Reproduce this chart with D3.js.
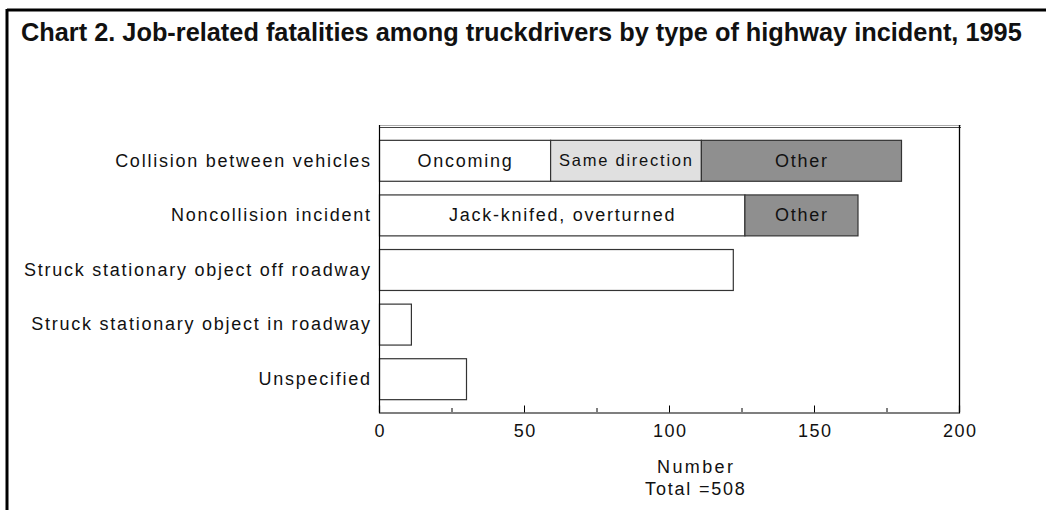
<!DOCTYPE html>
<html>
<head>
<meta charset="utf-8">
<script src="https://cdn.jsdelivr.net/npm/d3@7"></script>
<style>
  html, body { margin: 0; padding: 0; background: #fff; }
  svg { display: block; }
  text { font-family: "Liberation Sans", Arial, sans-serif; fill: #111; }
</style>
</head>
<body>
<svg id="chart" width="1046" height="510"></svg>
<script>
const title = "Chart 2. Job-related fatalities among truckdrivers by type of highway incident, 1995";
const categories = [
  "Collision between vehicles",
  "Noncollision incident",
  "Struck stationary object off roadway",
  "Struck stationary object in roadway",
  "Unspecified"
];
const segmentKeys = ["first", "second", "third"];
const firstValues  = [59, 126, 122, 11, 30];
const secondValues = [52, 0, 0, 0, 0];
const thirdValues  = [69, 39, 0, 0, 0];
const firstLabels  = ["Oncoming", "Jack-knifed, overturned", "", "", ""];
const secondLabels = ["Same direction", "", "", "", ""];
const thirdLabels  = ["Other", "Other", "", "", ""];
const xTicksMajor = [0, 50, 100, 150, 200];
const xTicksMinor = [25, 75, 125, 175];
const xTitle = "Number";
const totalLabel = "Total =508";

const fills = { first: "#ffffff", second: "#e0e0e0", third: "#8f8f8f" };
const labelSizes = { first: 18, second: 16.5, third: 18 };
const LS = 1.75;

const rows = categories.map((c, i) => ({
  category: c,
  first: firstValues[i], second: secondValues[i], third: thirdValues[i],
  labels: { first: firstLabels[i], second: secondLabels[i], third: thirdLabels[i] }
}));

const svg = d3.select("#chart");

// outer frame (top and left edges)
svg.append("line").attr("x1", 7).attr("x2", 1046).attr("y1", 10).attr("y2", 10)
  .attr("stroke", "#000").attr("stroke-width", 3);
svg.append("line").attr("x1", 7).attr("x2", 7).attr("y1", 9).attr("y2", 510)
  .attr("stroke", "#000").attr("stroke-width", 3);

// title
const t = svg.append("text").attr("x", 21).attr("y", 40.5)
  .attr("font-weight", "bold").attr("font-size", 19).text(title);
const tw = t.node().getComputedTextLength();
t.attr("font-size", 19 * 1001 / tw);

const pLeft = 379, pRight = 959, pTop = 127, pBottom = 412;
const x = d3.scaleLinear().domain([0, 200]).range([pLeft, pRight]);
const y = d3.scaleBand().domain(categories).range([pTop, pBottom])
  .paddingInner(0.25).paddingOuter(0.235);

// plot top double line
svg.append("line").attr("x1", pLeft).attr("x2", pRight + 2).attr("y1", pTop - 1.5).attr("y2", pTop - 1.5)
  .attr("stroke", "#aaa").attr("stroke-width", 1);
svg.append("line").attr("x1", pLeft).attr("x2", pRight + 2).attr("y1", pTop + 0.5).attr("y2", pTop + 0.5)
  .attr("stroke", "#444").attr("stroke-width", 1);
// right border
svg.append("line").attr("x1", pRight + 0.5).attr("x2", pRight + 0.5).attr("y1", pTop - 2).attr("y2", pBottom)
  .attr("stroke", "#000").attr("stroke-width", 1.3);

// stacked bars
const stack = d3.stack().keys(segmentKeys)(rows);
const g = svg.append("g");
stack.forEach(layer => {
  const key = layer.key;
  layer.forEach(d => {
    const v = d[1] - d[0];
    if (v <= 0) return;
    const yy = y(d.data.category);
    g.append("rect")
      .attr("x", x(d[0]) + 0.5).attr("y", yy + 0.5)
      .attr("width", x(d[1]) - x(d[0])).attr("height", y.bandwidth())
      .attr("fill", fills[key]).attr("stroke", "#333").attr("stroke-width", 1.2);
    const lab = d.data.labels[key];
    if (lab) {
      g.append("text")
        .attr("x", (x(d[0]) + x(d[1])) / 2 + LS / 2).attr("y", yy + y.bandwidth() / 2)
        .attr("dy", "0.35em").attr("text-anchor", "middle")
        .attr("font-size", labelSizes[key]).attr("letter-spacing", LS + "px")
        .text(lab);
    }
  });
});

// y axis (left line + category labels)
svg.append("line").attr("x1", pLeft + 0.5).attr("x2", pLeft + 0.5).attr("y1", pTop - 2).attr("y2", pBottom)
  .attr("stroke", "#000").attr("stroke-width", 1.2);
svg.append("g").selectAll("text").data(categories).join("text")
  .attr("x", 370 + LS).attr("y", d => y(d) + y.bandwidth() / 2).attr("dy", "0.35em")
  .attr("text-anchor", "end").attr("font-size", 18).attr("letter-spacing", LS + "px")
  .text(d => d);

// x axis
const xAxis = svg.append("g").attr("transform", `translate(0,${pBottom + 0.5})`)
  .call(d3.axisBottom(x).tickValues(xTicksMajor).tickSize(-7).tickPadding(12).tickFormat(d3.format("d")));
xAxis.select(".domain").attr("stroke", "#000").attr("stroke-width", 1.2);
xAxis.selectAll(".tick line").attr("stroke", "#000");
xAxis.selectAll(".tick text").attr("font-size", 18).attr("fill", "#111")
  .attr("font-family", "'Liberation Sans', Arial, sans-serif").attr("letter-spacing", "1.5px")
  .attr("dx", "0.75px");
svg.append("g").selectAll("line").data(xTicksMinor).join("line")
  .attr("x1", d => x(d) + 0.5).attr("x2", d => x(d) + 0.5)
  .attr("y1", pBottom).attr("y2", pBottom - 4).attr("stroke", "#000");

const xTitleCenter = 695;
svg.append("text").attr("x", xTitleCenter + 1.2).attr("y", 473).attr("text-anchor", "middle")
  .attr("font-size", 18).attr("letter-spacing", "2.4px").text(xTitle);
svg.append("text").attr("x", xTitleCenter + 0.9).attr("y", 495).attr("text-anchor", "middle")
  .attr("font-size", 18).attr("letter-spacing", "1.8px").text(totalLabel);
</script>
</body>
</html>
